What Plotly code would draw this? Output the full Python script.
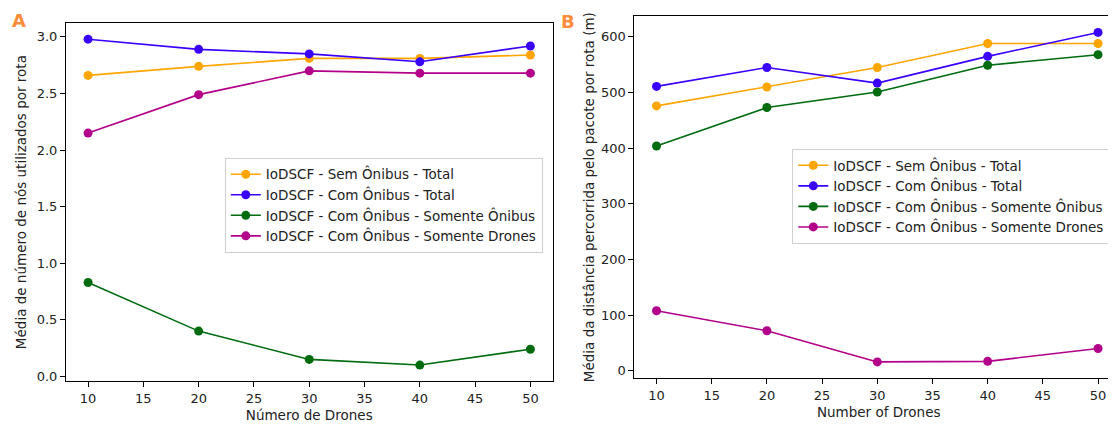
import plotly.graph_objects as go

drones = [10, 20, 30, 40, 50]

series_names = [
    "IoDSCF - Sem Ônibus - Total",
    "IoDSCF - Com Ônibus - Total",
    "IoDSCF - Com Ônibus - Somente Ônibus",
    "IoDSCF - Com Ônibus - Somente Drones",
]
colors = ["#FFA500", "#3A00FF", "#006B0F", "#B3008A"]

# Panel A: average number of nodes used per route
nodes_sem_total = [2.66, 2.74, 2.81, 2.81, 2.84]
nodes_com_total = [2.98, 2.89, 2.85, 2.78, 2.92]
nodes_com_onibus = [0.83, 0.40, 0.15, 0.10, 0.24]
nodes_com_drones = [2.15, 2.49, 2.70, 2.68, 2.68]

# Panel B: average distance travelled by the packet per route (m)
dist_sem_total = [476, 510, 545, 588, 588]
dist_com_total = [511, 545, 517, 565, 608]
dist_com_onibus = [404, 473, 501, 549, 568]
dist_com_drones = [108, 72, 16, 17, 40]

W, H = 1116, 427

def px_x(a, b):
    return [a / W, b / W]

def px_y(top, bottom):
    return [(H - bottom) / H, (H - top) / H]

fig = go.Figure()

left_data = [nodes_sem_total, nodes_com_total, nodes_com_onibus, nodes_com_drones]
right_data = [dist_sem_total, dist_com_total, dist_com_onibus, dist_com_drones]

for name, c, ys in zip(series_names, colors, left_data):
    fig.add_trace(go.Scatter(
        x=drones, y=ys, name=name, mode="lines+markers",
        line=dict(color=c, width=1.6), marker=dict(color=c, size=9),
        xaxis="x", yaxis="y", legend="legend"))

for name, c, ys in zip(series_names, colors, right_data):
    fig.add_trace(go.Scatter(
        x=drones, y=ys, name=name, mode="lines+markers",
        line=dict(color=c, width=1.6), marker=dict(color=c, size=9),
        xaxis="x2", yaxis="y2", legend="legend2"))

font = dict(family="DejaVu Sans", size=13, color="#222")
axis_common = dict(
    showline=True, linecolor="black", linewidth=1, mirror=True,
    ticks="outside", ticklen=5, tickcolor="black", showgrid=False,
    zeroline=False, tickfont=dict(family="DejaVu Sans", size=13, color="#222"),
)
title_font = dict(family="DejaVu Sans", size=13.5, color="#222")

legend_common = dict(
    bgcolor="rgba(255,255,255,0.85)", bordercolor="#d0d0d0", borderwidth=1,
    font=dict(family="DejaVu Sans", size=13.5, color="#222"),
    xanchor="left", yanchor="top", tracegroupgap=0, itemwidth=30,
)

fig.update_layout(
    width=W, height=H,
    margin=dict(l=0, r=0, t=0, b=0),
    plot_bgcolor="white", paper_bgcolor="white",
    font=font,
    xaxis=dict(domain=px_x(58, 545), range=[8, 52], tickvals=[10, 15, 20, 25, 30, 35, 40, 45, 50],
               title=dict(text="Número de Drones", standoff=5, font=title_font), anchor="y", **axis_common),
    yaxis=dict(domain=px_y(15, 376), range=[-0.044, 3.124], tickvals=[0, 0.5, 1, 1.5, 2, 2.5, 3],
               tickformat=".1f",
               title=dict(text="Média de número de nós utilizados por rota", standoff=6, font=title_font),
               anchor="x", **axis_common),
    xaxis2=dict(domain=px_x(627, 1116), range=[8, 52.26], tickvals=[10, 15, 20, 25, 30, 35, 40, 45, 50],
                title=dict(text="Number of Drones", standoff=5, font=title_font), anchor="y2", **axis_common),
    yaxis2=dict(domain=px_y(8, 373), range=[-13.6, 637.6], tickvals=[0, 100, 200, 300, 400, 500, 600],
                title=dict(text="Média da distância percorrida pelo pacote por rota (m)", standoff=3, font=title_font),
                anchor="x2", **axis_common),
    legend=dict(x=217 / W, y=1 - 151 / H, **legend_common),
    legend2=dict(x=785 / W, y=1 - 142 / H, **legend_common),
    annotations=[
        dict(text="<b>A</b>", x=2 / W, y=1.0, xref="paper", yref="paper",
             xanchor="left", yanchor="top", showarrow=False,
             font=dict(family="DejaVu Sans", size=18, color="#FF8C3A")),
        dict(text="<b>B</b>", x=551 / W, y=1 - 1 / H, xref="paper", yref="paper",
             xanchor="left", yanchor="top", showarrow=False,
             font=dict(family="DejaVu Sans", size=18, color="#FF8C3A")),
    ],
)

fig.write_html("out.html")
